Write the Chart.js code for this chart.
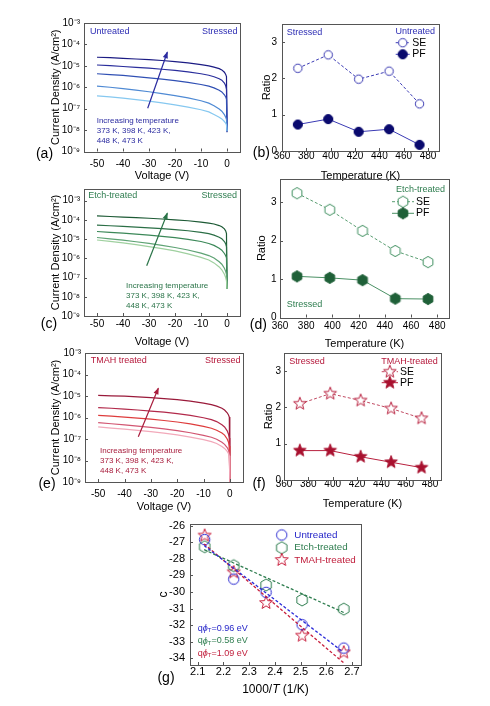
<!DOCTYPE html>
<html><head><meta charset="utf-8">
<script src="https://cdn.jsdelivr.net/npm/chart.js@4.4.1/dist/chart.umd.min.js"></script>
<style>
html,body{margin:0;padding:0;background:#fff;width:490px;height:706px;overflow:hidden}
canvas{position:absolute;left:0;top:0}
</style></head><body>
<canvas id="pa" width="490" height="706"></canvas>
<canvas id="pb" width="490" height="706"></canvas>
<canvas id="pc" width="490" height="706"></canvas>
<canvas id="pd" width="490" height="706"></canvas>
<canvas id="pe" width="490" height="706"></canvas>
<canvas id="pf" width="490" height="706"></canvas>
<canvas id="pg" width="490" height="706"></canvas>
<script>
// ---------------- DATA ----------------
const voltage = [-50,-45,-40,-35,-30,-25,-20,-15,-10,-7,-5,-3,-2,-1,-0.5,-0.2,0];
const temperatures = [373,398,423,448,473];
const voltageTicks = [-50,-40,-30,-20,-10,0];
const currentDensityExponents = [-9,-8,-7,-6,-5,-4,-3];
const temperatureTicks = [360,380,400,420,440,460,480];
const ratioTicks = [0,1,2,3];
const cTicks = [-26,-27,-28,-29,-30,-31,-32,-33,-34];
const invTTicks = [2.1,2.2,2.3,2.4,2.5,2.6,2.7];

// log10 of current density (A/cm^2) vs voltage
const untreatedLogJ373 = [-6.40,-6.45,-6.51,-6.58,-6.65,-6.73,-6.82,-6.93,-7.05,-7.15,-7.27,-7.40,-7.48,-7.60,-7.68,-7.75,-8.05];
const untreatedLogJ398 = [-5.95,-6.00,-6.06,-6.13,-6.21,-6.30,-6.39,-6.50,-6.63,-6.74,-6.86,-7.02,-7.12,-7.28,-7.40,-7.50,-8.05];
const untreatedLogJ423 = [-5.37,-5.41,-5.45,-5.50,-5.56,-5.62,-5.69,-5.77,-5.87,-5.95,-6.03,-6.14,-6.22,-6.35,-6.45,-6.56,-8.05];
const untreatedLogJ448 = [-4.96,-4.99,-5.03,-5.07,-5.11,-5.16,-5.21,-5.28,-5.37,-5.44,-5.51,-5.60,-5.67,-5.80,-5.93,-6.10,-8.05];
const untreatedLogJ473 = [-4.60,-4.62,-4.65,-4.68,-4.71,-4.75,-4.80,-4.86,-4.94,-5.00,-5.06,-5.13,-5.19,-5.30,-5.40,-5.50,-8.10];

const etchLogJ373 = [-5.05,-5.12,-5.20,-5.29,-5.39,-5.50,-5.62,-5.77,-5.95,-6.09,-6.24,-6.45,-6.60,-6.83,-7.00,-7.18,-7.60];
const etchLogJ398 = [-4.92,-4.99,-5.06,-5.14,-5.23,-5.33,-5.44,-5.57,-5.73,-5.86,-5.99,-6.18,-6.31,-6.52,-6.68,-6.83,-7.60];
const etchLogJ423 = [-4.61,-4.65,-4.69,-4.74,-4.80,-4.86,-4.93,-5.02,-5.13,-5.23,-5.33,-5.48,-5.58,-5.75,-5.87,-5.98,-7.60];
const etchLogJ448 = [-4.28,-4.31,-4.34,-4.38,-4.42,-4.46,-4.51,-4.57,-4.65,-4.72,-4.80,-4.91,-4.99,-5.13,-5.25,-5.40,-7.60];
const etchLogJ473 = [-3.80,-3.83,-3.86,-3.89,-3.92,-3.96,-4.00,-4.05,-4.12,-4.17,-4.22,-4.30,-4.36,-4.47,-4.58,-4.72,-7.60];

const tmahLogJ373 = [-6.44,-6.49,-6.54,-6.60,-6.66,-6.73,-6.81,-6.91,-7.03,-7.12,-7.21,-7.35,-7.44,-7.58,-7.68,-7.78,-9.0];
const tmahLogJ398 = [-6.24,-6.29,-6.34,-6.40,-6.46,-6.53,-6.61,-6.71,-6.83,-6.92,-7.01,-7.15,-7.25,-7.40,-7.52,-7.64,-9.0];
const tmahLogJ423 = [-5.90,-5.94,-5.98,-6.03,-6.08,-6.14,-6.21,-6.30,-6.41,-6.50,-6.59,-6.72,-6.82,-7.00,-7.15,-7.33,-9.0];
const tmahLogJ448 = [-5.54,-5.57,-5.61,-5.65,-5.70,-5.75,-5.82,-5.90,-6.01,-6.10,-6.19,-6.34,-6.44,-6.62,-6.78,-6.95,-9.0];
const tmahLogJ473 = [-4.97,-4.99,-5.01,-5.04,-5.08,-5.12,-5.17,-5.24,-5.33,-5.40,-5.47,-5.57,-5.65,-5.78,-5.88,-5.98,-9.0];

// ratios vs temperature
const untreatedSE = [2.28,2.65,1.98,2.20,1.30];
const untreatedPF = [0.73,0.88,0.53,0.60,0.17];
const etchSE = [3.23,2.80,2.25,1.73,1.44];
const etchPF = [1.07,1.03,0.97,0.49,0.48];
const tmahSE = [2.10,2.38,2.19,1.97,1.70];
const tmahPF = [0.81,0.81,0.64,0.49,0.34];

// c vs 1000/T
const invT = [2.127,2.240,2.366,2.506,2.668];
const untreatedC = [-26.84,-29.22,-30.02,-31.97,-33.38];
const etchC = [-27.27,-28.41,-29.58,-30.48,-31.03];
const tmahC = [-26.60,-28.81,-30.66,-32.63,-33.64];
const untreatedFitX = [2.125,2.66];
const untreatedFitC = [-27.20,-33.55];
const etchFitX = [2.125,2.67];
const etchFitC = [-27.45,-31.25];
const tmahFitX = [2.125,2.67];
const tmahFitC = [-27.10,-34.30];

// ---------------- STYLE ----------------
const FONT = "'Liberation Sans', Arial, sans-serif";
const BLUE_T = '#2d2db4', GREEN_T = '#2e7d4f', RED_T = '#b5173a';
const untreatedColors = ['#86c8f0','#4f8ad4','#3050b4','#2a2e9c','#1c1c84'];
const etchColors = ['#9fd09f','#5ea374','#3b8858','#2b6f46','#1d5a35'];
const tmahColors = ['#f2a9ba','#d25672','#de3c3c','#b2294a','#9a1a3a'];

const SUP = {'-':'\u207B','0':'\u2070','1':'\u00B9','2':'\u00B2','3':'\u00B3','4':'\u2074','5':'\u2075','6':'\u2076','7':'\u2077','8':'\u2078','9':'\u2079'};
function pow10Label(v){ const e = Math.round(Math.log10(v)); return '10' + String(e).split('').map(c=>SUP[c]).join(''); }

function makeMarker(shape, r, stroke, fill, lw){
  const s = Math.ceil(2*r + 2*lw + 2);
  const c = document.createElement('canvas'); c.width = s; c.height = s;
  const g = c.getContext('2d'); const cx = s/2, cy = s/2;
  g.beginPath();
  if (shape === 'circle') g.arc(cx, cy, r, 0, 2*Math.PI);
  else if (shape === 'hex') { for (let i=0;i<6;i++){ const a=-Math.PI/2+i*Math.PI/3; const px=cx+r*Math.cos(a), py=cy+r*Math.sin(a); if(i) g.lineTo(px,py); else g.moveTo(px,py);} g.closePath(); }
  else { for (let i=0;i<10;i++){ const a=-Math.PI/2+i*Math.PI/5; const rr=(i%2)?r*0.42:r; const px=cx+rr*Math.cos(a), py=cy+rr*Math.sin(a); if(i) g.lineTo(px,py); else g.moveTo(px,py);} g.closePath(); }
  if (fill) { g.fillStyle = fill; g.fill(); }
  g.lineWidth = lw; g.strokeStyle = stroke; g.stroke();
  return c;
}

function txt(ctx, s, x, y, size, color, align, style){
  ctx.font = (style||'') + ' ' + size + 'px ' + FONT;
  ctx.fillStyle = color; ctx.textAlign = align||'left'; ctx.textBaseline = 'middle';
  ctx.fillText(s, x, y);
}
function arrow(ctx, x1, y1, x2, y2, color){
  ctx.strokeStyle = color; ctx.fillStyle = color; ctx.lineWidth = 1.2; ctx.setLineDash([]);
  ctx.beginPath(); ctx.moveTo(x1,y1); ctx.lineTo(x2,y2); ctx.stroke();
  const a = Math.atan2(y2-y1, x2-x1), L = 6, W = 2.6;
  ctx.beginPath(); ctx.moveTo(x2+1*Math.cos(a), y2+1*Math.sin(a));
  ctx.lineTo(x2 - L*Math.cos(a) + W*Math.sin(a), y2 - L*Math.sin(a) - W*Math.cos(a));
  ctx.lineTo(x2 - L*Math.cos(a) - W*Math.sin(a), y2 - L*Math.sin(a) + W*Math.cos(a));
  ctx.closePath(); ctx.fill();
}
function legendRow(ctx, y, x1, x2, img, dash, lineColor, label, tx){
  ctx.save(); ctx.strokeStyle = lineColor; ctx.lineWidth = 1; ctx.setLineDash(dash);
  ctx.beginPath(); ctx.moveTo(x1,y); ctx.lineTo(x2,y); ctx.stroke(); ctx.restore();
  ctx.drawImage(img, (x1+x2)/2 - img.width/2, y - img.height/2);
  txt(ctx, label, tx, y, 10.5, '#000');
}

function makeDeco(extra){
  return { id:'deco', afterDraw(chart){
    const ctx = chart.ctx, a = chart.chartArea;
    ctx.save();
    ctx.strokeStyle = '#555'; ctx.lineWidth = 1; ctx.setLineDash([]);
    ctx.strokeRect(Math.round(a.left)+0.5, Math.round(a.top)+0.5, Math.round(a.right-a.left), Math.round(a.bottom-a.top));
    ctx.beginPath();
    chart.scales.x.ticks.forEach(t => { const p = Math.round(chart.scales.x.getPixelForValue(t.value))+0.5; ctx.moveTo(p, a.bottom); ctx.lineTo(p, a.bottom-3); });
    chart.scales.y.ticks.forEach(t => { const p = Math.round(chart.scales.y.getPixelForValue(t.value))+0.5; ctx.moveTo(a.left, p); ctx.lineTo(a.left+3, p); });
    ctx.stroke();
    extra(ctx, chart);
    ctx.restore();
  }};
}

function panel(id, o){
  const tickSize = o.tickSize || 10, titleSize = o.titleSize || 11;
  const lh = titleSize * 1.2;
  const padLeft = o.yTitleX - lh/2;
  const padBottom = o.xTitleY ? 706 - (o.xTitleY + lh/2) : 0;
  const tickFont = {family: FONT, size: tickSize};
  const titleFont = {family: FONT, size: titleSize};
  return new Chart(document.getElementById(id), {
    type: 'line',
    data: { datasets: o.datasets },
    options: {
      responsive: false, animation: false, events: [],
      layout: { padding: { left: padLeft, top: o.area.t, right: 490 - o.area.r, bottom: padBottom } },
      plugins: { legend: {display:false}, tooltip: {enabled:false} },
      scales: {
        x: { type:'linear', min:o.x.min, max:o.x.max,
             grid:{display:false, drawTicks:false}, border:{display:false},
             ticks:{font:tickFont, color:'#000', padding:o.xTickPad, autoSkip:false, maxRotation:0, callback:o.x.fmt},
             afterBuildTicks: s => { s.ticks = o.x.ticks.map(v => ({value:v})); },
             afterFit: s => { s.height = (706 - padBottom) - o.area.b; },
             title: { display: !!o.xTitle, text: o.xTitle || '', font: titleFont, color:'#000', padding:0 } },
        y: { type:o.y.type || 'linear', min:o.y.min, max:o.y.max,
             grid:{display:false, drawTicks:false}, border:{display:false},
             ticks:{font:tickFont, color:'#000', padding:o.yTickPad, autoSkip:false, callback:o.y.fmt},
             afterBuildTicks: s => { s.ticks = o.y.ticks.map(v => ({value:v})); },
             afterFit: s => { s.width = o.area.l - padLeft; },
             title: { display:true, text:o.yTitle, font:titleFont, color:'#000', padding:0 } }
      }
    },
    plugins: [makeDeco(o.extra)]
  });
}

function ivSets(arrays, colors){
  return arrays.map((arr, k) => ({
    data: voltage.map((v, i) => ({x: v, y: Math.pow(10, arr[i])})),
    borderColor: colors[k], borderWidth: 1.2, pointRadius: 0, fill: false
  }));
}
function ratioSets(se, pf, seImg, pfImg, seLine, pfLine){
  return [
    { data: temperatures.map((t,i)=>({x:t, y:se[i]})), borderColor: seLine, borderWidth: 1, borderDash:[3,2], pointStyle: seImg, pointRadius: 5 },
    { data: temperatures.map((t,i)=>({x:t, y:pf[i]})), borderColor: pfLine, borderWidth: 1, pointStyle: pfImg, pointRadius: 5 }
  ];
}

const intFmt = v => String(v);
const ivX = {min:-55, max:5, ticks: voltageTicks, fmt: intFmt};
const tX = {min:360, max:489, ticks: temperatureTicks, fmt: intFmt};
const logTicks = currentDensityExponents.map(e => Math.pow(10, e));

function tempText(ctx, x, y0, color){
  txt(ctx, 'Increasing temperature', x, y0, 8, color);
  txt(ctx, '373 K, 398 K, 423 K,', x, y0 + 9.8, 8, color);
  txt(ctx, '448 K, 473 K', x, y0 + 19.6, 8, color);
}

// (a)
panel('pa', {
  area:{l:84, t:23, r:240, b:151.5}, yTitleX:56, xTitleY:176, xTickPad:6.5, yTickPad:4,
  x: ivX, y: {type:'logarithmic', min:1e-9, max:1e-3, ticks:logTicks, fmt:pow10Label},
  xTitle:'Voltage (V)', yTitle:'Current Density (A/cm\u00B2)',
  datasets: ivSets([untreatedLogJ373,untreatedLogJ398,untreatedLogJ423,untreatedLogJ448,untreatedLogJ473], untreatedColors),
  extra(ctx){
    txt(ctx, 'Untreated', 90, 32, 9, BLUE_T);
    txt(ctx, 'Stressed', 237.5, 31.5, 9, BLUE_T, 'right');
    arrow(ctx, 147.7, 108.3, 167.3, 52.3, '#2a2aa0');
    tempText(ctx, 96.7, 121, '#2a2aa0');
    txt(ctx, '(a)', 44.5, 154.3, 14, '#000', 'center');
  }
});

// (b)
const bSE = makeMarker('circle', 4.2, '#3434b0', '#fff', 1);
const bPF = makeMarker('circle', 4.6, '#0a0a6e', '#0a0a6e', 1);
panel('pb', {
  area:{l:282, t:24, r:439, b:151}, yTitleX:266.7, xTitleY:176, xTickPad:-1, yTickPad:5,
  x: tX, y: {min:0, max:3.5, ticks:ratioTicks, fmt:intFmt},
  xTitle:'Temperature (K)', yTitle:'Ratio',
  datasets: ratioSets(untreatedSE, untreatedPF, bSE, bPF, '#3a3ab4', '#3a3ab4'),
  extra(ctx){
    txt(ctx, 'Stressed', 286.7, 32.3, 9, BLUE_T);
    txt(ctx, 'Untreated', 435, 32, 9, BLUE_T, 'right');
    legendRow(ctx, 42.7, 395.7, 409.7, bSE, [3,2], '#3a3ab4', 'SE', 412.3);
    legendRow(ctx, 54.3, 395.7, 409.7, bPF, [], '#3a3ab4', 'PF', 412.3);
    txt(ctx, '(b)', 261.3, 153.5, 14, '#000', 'center');
  }
});

// (c)
panel('pc', {
  area:{l:84, t:189, r:240, b:316}, yTitleX:56, xTitleY:341.7, xTickPad:2.3, yTickPad:4,
  x: ivX, y: {type:'logarithmic', min:1e-9, max:Math.pow(10,-2.4), ticks:logTicks, fmt:pow10Label},
  xTitle:'Voltage (V)', yTitle:'Current Density (A/cm\u00B2)',
  datasets: ivSets([etchLogJ373,etchLogJ398,etchLogJ423,etchLogJ448,etchLogJ473], etchColors),
  extra(ctx){
    txt(ctx, 'Etch-treated', 88.3, 196, 9, GREEN_T);
    txt(ctx, 'Stressed', 237, 196, 9, GREEN_T, 'right');
    arrow(ctx, 146.7, 265.7, 167.3, 213.3, '#2a7448');
    tempText(ctx, 126, 285.7, '#2a7448');
    txt(ctx, '(c)', 49, 324.3, 14, '#000', 'center');
  }
});

// (d)
const dSE = makeMarker('hex', 5.6, '#3f8f5f', '#fff', 1);
const dPF = makeMarker('hex', 5.6, '#1f6038', '#1f6038', 1);
panel('pd', {
  area:{l:280, t:179, r:449, b:317.5}, yTitleX:261.7, xTitleY:344, xTickPad:2.5, yTickPad:3.5,
  x: tX, y: {min:0, max:3.6, ticks:ratioTicks, fmt:intFmt},
  xTitle:'Temperature (K)', yTitle:'Ratio',
  datasets: ratioSets(etchSE, etchPF, dSE, dPF, '#5a9e72', '#4a9064'),
  extra(ctx){
    txt(ctx, 'Etch-treated', 445, 189.3, 9, GREEN_T, 'right');
    legendRow(ctx, 201.7, 392, 414, dSE, [3,2], '#5a9e72', 'SE', 416);
    legendRow(ctx, 213.3, 392, 414, dPF, [], '#4a9064', 'PF', 416);
    txt(ctx, 'Stressed', 286.7, 305, 9, GREEN_T);
    txt(ctx, '(d)', 258.3, 325, 14, '#000', 'center');
  }
});

// (e)
panel('pe', {
  area:{l:85, t:353, r:243, b:482}, yTitleX:56, xTitleY:506.7, xTickPad:6, yTickPad:4,
  x: ivX, y: {type:'logarithmic', min:1e-9, max:1e-3, ticks:logTicks, fmt:pow10Label},
  xTitle:'Voltage (V)', yTitle:'Current Density (A/cm\u00B2)',
  datasets: ivSets([tmahLogJ373,tmahLogJ398,tmahLogJ423,tmahLogJ448,tmahLogJ473], tmahColors),
  extra(ctx){
    txt(ctx, 'TMAH treated', 90.7, 360.7, 9, RED_T);
    txt(ctx, 'Stressed', 240.5, 360.7, 9, RED_T, 'right');
    arrow(ctx, 138.3, 436.7, 158.3, 388.3, '#a81c3c');
    tempText(ctx, 100, 451, '#a81c3c');
    txt(ctx, '(e)', 47, 484.3, 14, '#000', 'center');
  }
});

// (f)
const fSE = makeMarker('star', 6.6, '#b8203e', '#fff', 1);
const fPF = makeMarker('star', 6.6, '#a8102e', '#a8102e', 1);
panel('pf', {
  area:{l:284, t:353, r:441, b:480}, yTitleX:269, xTitleY:504.3, xTickPad:-2, yTickPad:3,
  x: tX, y: {min:0, max:3.5, ticks:ratioTicks, fmt:intFmt},
  xTitle:'Temperature (K)', yTitle:'Ratio',
  datasets: ratioSets(tmahSE, tmahPF, fSE, fPF, '#c04a62', '#b8203e'),
  extra(ctx){
    txt(ctx, 'Stressed', 289.3, 361.7, 9, RED_T);
    txt(ctx, 'TMAH-treated', 437.7, 361.7, 9, RED_T, 'right');
    legendRow(ctx, 371.7, 381.7, 398, fSE, [3,2], '#c04a62', 'SE', 400);
    legendRow(ctx, 382.7, 381.7, 398, fPF, [], '#b8203e', 'PF', 400);
    txt(ctx, '(f)', 259, 484, 14, '#000', 'center');
  }
});

// (g)
const gU = makeMarker('circle', 5.2, '#2424d0', null, 1);
const gE = makeMarker('hex', 6, '#2e7d4f', null, 1);
const gT = makeMarker('star', 6.8, '#c81e3c', null, 1);
function fitSet(xs, ys, color){ return { data: xs.map((x,i)=>({x, y:ys[i]})), borderColor: color, borderWidth: 1.3, borderDash:[3,2], pointRadius: 0 }; }
function markSet(ys, img){ return { data: invT.map((x,i)=>({x, y:ys[i]})), showLine:false, borderColor:'rgba(0,0,0,0)', pointStyle: img, pointRadius: 5 }; }
panel('pg', {
  area:{l:190, t:524, r:361, b:665}, yTitleX:164, xTitleY:null, xTickPad:0, yTickPad:5, tickSize:11, titleSize:12,
  x: {min:2.07, max:2.735, ticks:invTTicks, fmt: v => v.toFixed(1)},
  y: {min:-34.4, max:-25.9, ticks:cTicks, fmt:intFmt},
  xTitle:null, yTitle:'c',
  datasets: [
    fitSet(untreatedFitX, untreatedFitC, '#2a2ad8'),
    fitSet(etchFitX, etchFitC, '#2e7d4f'),
    fitSet(tmahFitX, tmahFitC, '#c81e3c'),
    markSet(untreatedC, gU), markSet(etchC, gE), markSet(tmahC, gT)
  ],
  extra(ctx){
    // x title with italic T
    const parts = [['1000/',''],['T','italic'],[' (1/K)','']];
    let w = 0; parts.forEach(p => { ctx.font = p[1]+' 12px '+FONT; w += ctx.measureText(p[0]).width; });
    let x = 275.5 - w/2;
    parts.forEach(p => { txt(ctx, p[0], x, 690, 12, '#000', 'left', p[1]); ctx.font = p[1]+' 12px '+FONT; x += ctx.measureText(p[0]).width; });
    // legend
    ctx.drawImage(gU, 281.7 - gU.width/2, 535 - gU.height/2);
    ctx.drawImage(gE, 281.7 - gE.width/2, 547.7 - gE.height/2);
    ctx.drawImage(gT, 281.7 - gT.width/2, 560 - gT.height/2);
    txt(ctx, 'Untreated', 294.3, 535, 9.8, '#2424c8');
    txt(ctx, 'Etch-treated', 294.3, 547.7, 9.8, GREEN_T);
    txt(ctx, 'TMAH-treated', 294.3, 560, 9.8, '#c01c3a');
    // barrier labels
    const bl = [['0.96', 628.3, '#2424c8'], ['0.58', 641, GREEN_T], ['1.09', 653.3, '#c01c3a']];
    bl.forEach(b => {
      let xx = 197.7; const y = b[1], c = b[2];
      txt(ctx, 'q', xx, y, 9, c); ctx.font = '9px '+FONT; xx += ctx.measureText('q').width;
      txt(ctx, '\u03D5', xx, y, 9, c, 'left', 'italic'); ctx.font = 'italic 9px '+FONT; xx += ctx.measureText('\u03D5').width;
      txt(ctx, 'T', xx, y + 2.5, 6, c); ctx.font = '6px '+FONT; xx += ctx.measureText('T').width;
      txt(ctx, '=' + b[0] + ' eV', xx, y, 9, c);
    });
    txt(ctx, '(g)', 166, 677.7, 14, '#000', 'center');
  }
});
</script>
</body></html>
